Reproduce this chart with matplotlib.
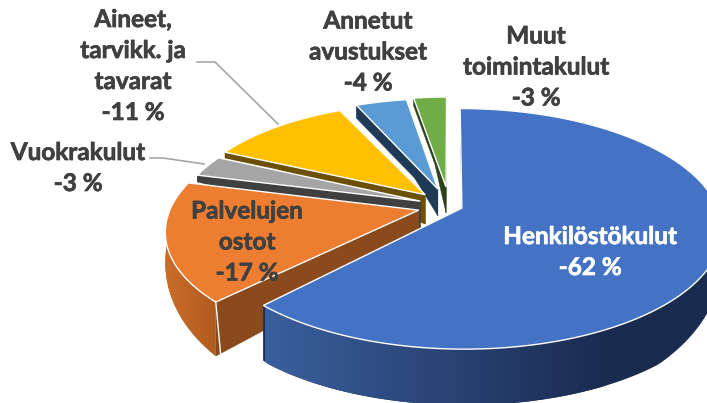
import matplotlib
matplotlib.use("Agg")
import matplotlib.patheffects as pe
import matplotlib.pyplot as plt
import numpy as np
from matplotlib.colors import LinearSegmentedColormap
from matplotlib.patches import Polygon

# share of costs, clockwise from 12 o'clock
names = ["Henkilöstökulut", "Palvelujen\nostot", "Vuokrakulut", "Aineet,\ntarvikk. ja\ntavarat", "Annetut\navustukset", "Muut\ntoimintakulut"]
values = [62, 17, 3, 11, 4, 3]
top_colors = ["#4472C4", "#ED7D31", "#A5A5A5", "#FFC000", "#5B9BD5", "#70AD47"]
side_colors = ["#2A4573", "#8A4A1C", "#404040", "#6A5000", "#1F3A56", "#2A431B"]
wall_left = ["#3A5F9E", "#CB6D2A", "#404040", "#6A5000", "#1F3A56", "#2A431B"]
wall_right = ["#1A2B50", "#B05C1F", "#404040", "#6A5000", "#1F3A56", "#2A431B"]
explode = [0.05, 0.127, 0.125, 0.14, 0.158, 0.17]
radius = [1.0, 0.97, 0.95, 0.95, 0.95, 0.95]
start_shift = [0, 1.5, 0, 0, 1.5, 1.5]
end_shift = [0, 0, 0, 0, 1.5, 0]
min_depth = [6, 6, 6, 6, 13, 8]
label_xy = [(590, 252), (247, 242), (78, 168), (133, 66), (368, 52), (536, 67)]
label_colors = ["white", "#404040", "#404040", "#404040", "#404040", "#404040"]

# fake 3d projection of the pie plane
cx, cy = 450, 206
bx, by, persp = 255, 116, 0.1715


def project(u, v):
    d = 1 + persp * v
    return cx + bx * u / d, cy - by * v / d


def depth_at(v, s, floor):
    # s is 0 at the apex, 1 on the rim
    return np.clip(20 - 47 * v + 14 * (1 - s), floor, 56)


fig = plt.figure(figsize=(7.07, 4.03), dpi=100)
ax = fig.add_axes([0, 0, 1, 1])

edges = np.cumsum([0] + values) / sum(values) * 2 * np.pi
# back slices first, blue one goes on top
for i in [5, 4, 3, 2, 1, 0]:
    t0 = edges[i] + np.radians(start_shift[i])
    t1 = edges[i + 1] + np.radians(end_shift[i])
    tm = (edges[i] + edges[i + 1]) / 2
    ox, oy = explode[i] * np.sin(tm), explode[i] * np.cos(tm)
    r = radius[i]
    z = 10 + 5 - i
    th = np.linspace(t0, t1, 160)
    u = ox + r * np.sin(th)
    v = oy + r * np.cos(th)
    x, y = project(u, v)
    ax_, ay_ = project(ox, oy)

    # radial walls
    for t in (t0, t1):
        s = np.linspace(0, 1, 20)
        ru = ox + s * r * np.sin(t)
        rv = oy + s * r * np.cos(t)
        rx, ry = project(ru, rv)
        ry2 = ry + depth_at(rv, s, min_depth[i])
        pts = np.r_[np.c_[rx, ry], np.c_[rx, ry2][::-1]]
        ax.add_patch(Polygon(pts, closed=True, fc=side_colors[i], ec=side_colors[i], lw=0.3, zorder=z))

    # outer wall, shaded left to right
    dep = depth_at(v, 1, min_depth[i])
    wall_pts = np.r_[np.c_[x, y], np.c_[x, y + dep][::-1]]
    wall = Polygon(wall_pts, closed=True, fc="none", ec="none", zorder=z)
    ax.add_patch(wall)
    cmap = LinearSegmentedColormap.from_list("wall", [wall_left[i], wall_right[i]])
    xl, xr = x.min(), x.max()
    if i == 0:
        xl, xr = 265, 605
    if i == 1:
        xl, xr = 165, 215
    # flat colour past the end of the ramp
    ax.add_patch(Polygon(wall_pts, closed=True, fc=wall_right[i], ec="none", zorder=z))
    im = ax.imshow(np.linspace(0, 1, 256)[None, :], cmap=cmap, extent=(xl, xr, 403, 0), aspect="auto", zorder=z + 0.1)
    im.set_clip_path(wall)

    # top face
    pts = np.r_[[[ax_, ay_]], np.c_[x, y]]
    ax.add_patch(Polygon(pts, closed=True, fc=top_colors[i], ec="white", lw=1.0, joinstyle="miter", zorder=z + 0.5))

    # white line on the orange front corner
    if i == 1:
        ax.plot([x[0], x[0] + 5], [y[0], y[0] + dep[0]], color="white", lw=1.0, zorder=z + 0.5)

ax.set_xlim(0, 707)
ax.set_ylim(403, 0)
ax.axis("off")

# leader lines
ax.plot([150, 163, 204], [158, 158, 164], color="#A6A6A6", lw=1.2, zorder=5)
ax.plot([197, 215, 278], [62, 62, 124], color="#A6A6A6", lw=1.2, zorder=5)

for name, val, (lx, ly), lc in zip(names, values, label_xy, label_colors):
    t = ax.text(lx, ly, f"{name}\n-{val} %", ha="center", va="center", color=lc, family="Lato",
                fontweight="bold", fontsize=17.5, linespacing=1.42, zorder=30)
    t.set_path_effects([pe.withStroke(linewidth=0.5, foreground=lc)])

fig.savefig("out.png", dpi=100)
